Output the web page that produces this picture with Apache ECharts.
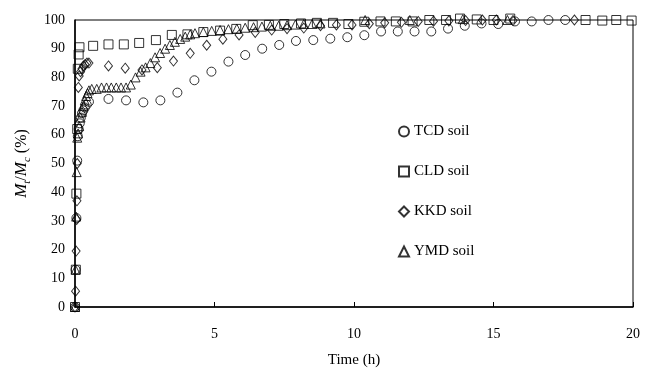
<!DOCTYPE html>
<html>
<head>
<meta charset="utf-8">
<script src="https://cdn.jsdelivr.net/npm/echarts@6/dist/echarts.min.js"></script>
<style>
  html, body { margin: 0; padding: 0; background: #fff; }
  #chart { width: 650px; height: 373px; }
</style>
</head>
<body>
<div id="chart"></div>
<script>
// time (h) and fractional release Mt/Mc (%) per soil
const tcdTime = [0, 0.02, 0.05, 0.08, 0.1, 0.13, 0.17, 0.21, 0.25, 0.3, 0.35, 0.42, 0.5, 1.2, 1.83, 2.45, 3.06, 3.67, 4.28, 4.89, 5.5, 6.1, 6.71, 7.32, 7.92, 8.54, 9.15, 9.76, 10.37, 10.97, 11.57, 12.17, 12.77, 13.37, 13.97, 14.57, 15.17, 15.77, 16.37, 16.97, 17.57];
const tcdValue = [0, 13, 31, 51, 59.5, 62, 64, 66, 67.5, 68.5, 69.5, 70.5, 71.5, 72.5, 72, 71.3, 72, 74.7, 79, 82, 85.5, 87.8, 90, 91.3, 92.7, 93, 93.5, 94, 94.7, 96, 96, 96, 96, 97, 98, 98.8, 98.6, 99.5, 99.5, 100, 100];

const cldTime = [0, 0.03, 0.05, 0.08, 0.1, 0.13, 0.16, 0.65, 1.2, 1.75, 2.3, 2.9, 3.47, 4.03, 4.6, 5.2, 5.78, 6.37, 6.95, 7.5, 8.1, 8.67, 9.25, 9.8, 10.37, 10.95, 11.5, 12.1, 12.7, 13.3, 13.8, 14.4, 15.0, 15.6, 18.3, 18.9, 19.4, 19.95];
const cldValue = [0, 13, 39.5, 62, 83, 88, 90.5, 91, 91.5, 91.5, 92, 93, 94.8, 95, 95.8, 96.3, 96.9, 98.2, 98.3, 98.6, 98.8, 99, 99, 98.6, 99.4, 99.5, 99.5, 99.5, 100, 100, 100.5, 100.2, 100, 100.5, 100, 99.8, 100, 99.8];

const kkdTime = [0, 0.02, 0.04, 0.06, 0.07, 0.08, 0.12, 0.15, 0.2, 0.25, 0.3, 0.36, 0.43, 0.5, 1.2, 1.8, 2.4, 2.95, 3.53, 4.13, 4.72, 5.3, 5.88, 6.46, 7.05, 7.6, 8.2, 8.8, 9.37, 9.93, 10.55, 11.1, 11.7, 12.3, 12.85, 13.4, 14.0, 14.6, 15.1, 15.7, 17.9];
const kkdValue = [0, 5.5, 19.5, 30.5, 37, 50, 76.5, 80.5, 82, 83, 84, 84.5, 85, 85, 84, 83.2, 82.6, 83.4, 85.7, 88.4, 91.2, 93.3, 94.8, 95.7, 96.5, 97, 97.2, 98, 98.3, 98.3, 98.7, 99, 99.2, 99.5, 99.6, 99.7, 99.8, 100, 100, 99.8, 100];

const ymdTime = [0, 0.02, 0.04, 0.06, 0.08, 0.11, 0.15, 0.2, 0.25, 0.3, 0.35, 0.4, 0.45, 0.5, 0.6, 0.78, 0.95, 1.13, 1.3, 1.48, 1.65, 1.83, 2.0, 2.17, 2.35, 2.53, 2.7, 2.87, 3.05, 3.23, 3.4, 3.58, 3.77, 3.95, 4.13, 4.3, 4.6, 4.9, 5.2, 5.5, 5.8, 6.1, 6.4, 6.7, 7.0, 7.3, 7.6, 7.9, 8.2, 8.5, 8.8, 10.4, 12.0, 13.9, 15.5];
const ymdValue = [0, 13, 31.5, 47, 59, 60.5, 63, 66, 68, 70, 72, 73.5, 74.5, 75.5, 76, 76, 76.5, 76.5, 76.5, 76.5, 76.5, 76.5, 77.5, 80, 82, 83.5, 85, 87, 88.5, 90, 91.3, 92.4, 93.4, 94.2, 95, 95.4, 95.8, 96.2, 96.5, 96.8, 97, 97.3, 97.5, 97.7, 98, 98, 98.2, 98.4, 98.6, 98.6, 98.8, 100, 100, 100.3, 100];

const seriesNames = ["TCD soil", "CLD soil", "KKD soil", "YMD soil"];
const xTicks = [0, 5, 10, 15, 20];
const yTicks = [0, 10, 20, 30, 40, 50, 60, 70, 80, 90, 100];

const font = "Liberation Serif";

function pairs(ts, vs) {
  return ts.map((t, i) => [t, vs[i]]);
}

function scatter(name, ts, vs, symbol, size) {
  return {
    name: name,
    type: "scatter",
    symbol: symbol,
    symbolSize: size,
    clip: false,
    itemStyle: {
      color: "rgba(255,255,255,0)",
      borderColor: "#000",
      borderWidth: 1,
    },
    data: pairs(ts, vs),
  };
}

const chart = echarts.init(document.getElementById("chart"));
chart.setOption({
  animation: false,
  textStyle: { fontFamily: font, color: "#000" },
  grid: {
    left: 75,
    right: 17,
    top: 20,
    bottom: 66,
    show: true,
    borderColor: "#000",
    borderWidth: 1,
  },
  legend: {
    orient: "vertical",
    left: 393,
    top: 119,
    itemGap: 25,
    itemWidth: 10,
    itemHeight: 10,
    textStyle: { fontFamily: font, fontSize: 15, color: "#000" },
    data: seriesNames,
  },
  xAxis: {
    type: "value",
    min: xTicks[0],
    max: xTicks[xTicks.length - 1],
    interval: 5,
    name: "Time (h)",
    nameLocation: "middle",
    nameGap: 46,
    nameTextStyle: { fontFamily: font, fontSize: 15, color: "#000" },
    axisLine: { lineStyle: { color: "#000", width: 1.5 } },
    axisTick: { inside: true, length: 5, lineStyle: { color: "#000" } },
    axisLabel: { fontFamily: font, fontSize: 14, color: "#000", margin: 20 },
    splitLine: { show: false },
  },
  yAxis: {
    type: "value",
    min: yTicks[0],
    max: yTicks[yTicks.length - 1],
    interval: 10,
    name: "{i|M}{s|t}{n|/}{i|M}{s|c}{n| (%)}",
    nameLocation: "middle",
    nameGap: 45,
    nameRotate: 90,
    nameTextStyle: {
      fontFamily: font,
      color: "#000",
      rich: {
        i: { fontFamily: font, fontSize: 17, fontStyle: "italic", lineHeight: 22, verticalAlign: "bottom" },
        s: { fontFamily: font, fontSize: 11, fontStyle: "italic", lineHeight: 22, verticalAlign: "bottom", padding: [0, 0, -3, 0] },
        n: { fontFamily: font, fontSize: 16, lineHeight: 22, verticalAlign: "bottom" },
      },
    },
    axisLine: { lineStyle: { color: "#000", width: 1.5 } },
    axisTick: { show: false },
    axisLabel: { fontFamily: font, fontSize: 14, color: "#000", margin: 10 },
    splitLine: { show: false },
  },
  series: [
    scatter(seriesNames[0], tcdTime, tcdValue, "circle", 9),
    scatter(seriesNames[1], cldTime, cldValue, "rect", 9),
    scatter(seriesNames[2], kkdTime, kkdValue, "diamond", [8, 10]),
    scatter(seriesNames[3], ymdTime, ymdValue, "triangle", [9, 9]),
  ],
});
</script>
</body>
</html>
